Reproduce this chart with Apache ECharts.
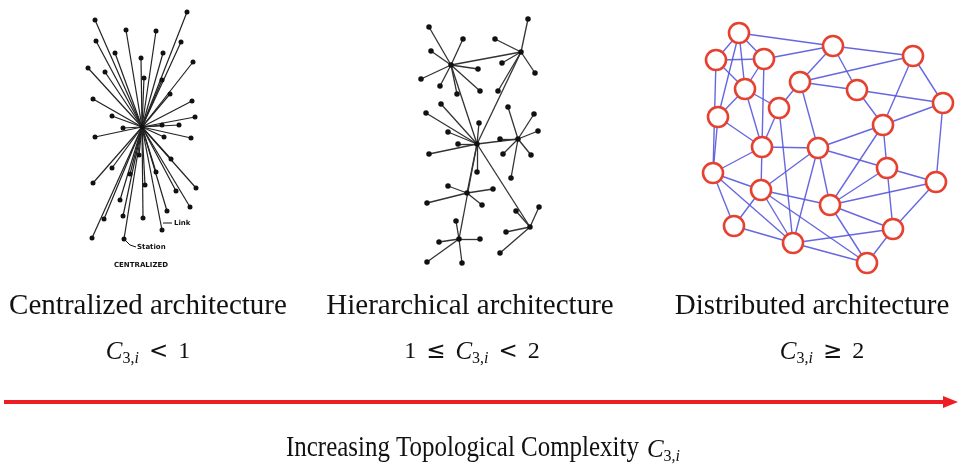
<!DOCTYPE html>
<html>
<head>
<meta charset="utf-8">
<script src="https://cdn.jsdelivr.net/npm/echarts@6/dist/echarts.min.js"></script>
<style>
  html, body { margin: 0; padding: 0; background: #fff; }
  #chart { width: 962px; height: 469px; }
</style>
</head>
<body>
<div id="chart"></div>
<script>
// ---- centralized: one hub, every station linked to it ----
const centralHub = [142, 127];
const centralLeaves = [
  [95, 20], [187, 12], [126, 30], [156, 31], [96, 41], [181, 42], [115, 53], [163, 53],
  [141, 58], [193, 62], [88, 68], [105, 72], [144, 78], [162, 80], [170, 94], [93, 99],
  [192, 101], [112, 116], [195, 117], [162, 125], [179, 125], [123, 128], [95, 137], [164, 137],
  [191, 138], [139, 155], [171, 159], [112, 168], [130, 174], [156, 172], [93, 183], [145, 185],
  [176, 191], [196, 188], [120, 200], [190, 207], [167, 211], [123, 216], [104, 219], [143, 218],
  [162, 230], [92, 238], [124, 239]
];

// ---- hierarchical: sub-hubs, hub-to-hub links, leaves as [hub, x, y] ----
const hierHubs = [[451, 65], [521, 52], [477, 144], [518, 139], [467, 193], [530, 227], [459, 239]];
const hierHubLinks = [[0, 1], [0, 2], [1, 2], [2, 3], [2, 4], [2, 6], [2, 5]];
const hierLeaves = [
  [0, 429, 27], [0, 463, 39], [0, 431, 51], [0, 478, 69], [0, 421, 79], [0, 440, 86], [0, 457, 94], [0, 480, 91],
  [1, 528, 19], [1, 495, 39], [1, 502, 63], [1, 535, 73], [1, 498, 91],
  [2, 426, 113], [2, 441, 104], [2, 479, 123], [2, 448, 132], [2, 458, 144], [2, 429, 154], [2, 477, 172],
  [3, 508, 107], [3, 534, 114], [3, 538, 131], [3, 500, 139], [3, 503, 154], [3, 531, 155], [3, 511, 178],
  [4, 448, 186], [4, 493, 189], [4, 427, 203], [4, 482, 205],
  [5, 539, 207], [5, 516, 211], [5, 506, 232], [5, 500, 253],
  [6, 456, 221], [6, 439, 242], [6, 480, 239], [6, 427, 262], [6, 462, 263]
];

// ---- distributed: mesh ----
const distNodes = [
  [739, 33], [833, 46], [913, 56], [716, 60], [764, 59], [800, 82], [857, 90], [745, 89],
  [779, 108], [943, 103], [718, 117], [883, 125], [762, 147], [818, 148], [713, 173], [887, 168],
  [936, 182], [761, 190], [830, 205], [734, 226], [893, 229], [793, 243], [867, 263]
];
const distLinks = [
  [0, 1], [0, 3], [0, 4], [0, 7], [0, 10], [3, 4], [3, 7], [3, 14], [4, 1], [4, 7], [4, 12],
  [1, 5], [1, 6], [1, 2], [5, 2], [5, 6], [5, 8], [6, 9], [6, 11], [2, 9], [2, 11], [9, 11],
  [9, 16], [7, 8], [7, 10], [7, 12], [8, 12], [8, 21], [5, 13], [11, 13], [11, 15], [11, 18],
  [12, 13], [12, 14], [12, 17], [12, 10], [13, 15], [13, 17], [13, 18], [13, 21], [14, 17],
  [14, 19], [14, 21], [14, 10], [17, 18], [17, 19], [17, 21], [17, 22], [18, 15], [18, 16],
  [18, 20], [18, 22], [15, 16], [15, 20], [16, 20], [20, 22], [20, 21], [21, 22], [19, 21]
];

// ---- captions ----
const titles = ["Centralized architecture", "Hierarchical architecture", "Distributed architecture"];
const titleCenters = [148, 470, 812];
const formulas = [
  [["C", "it"], ["3,", "sub"], ["i", "subit"], ["<", "rel"], ["1", "rm"]],
  [["1", "rm"], ["\u2264", "rel"], ["C", "it"], ["3,", "sub"], ["i", "subit"], ["<", "rel"], ["2", "rm"]],
  [["C", "it"], ["3,", "sub"], ["i", "subit"], ["\u2265", "rel"], ["2", "rm"]]
];
const formulaCenters = [148, 472, 822];
const axisLabel = "Increasing Topological Complexity";

const SERIF = "'Liberation Serif', 'Times New Roman', serif";
const fonts = {
  rm: "24px " + SERIF,
  it: "italic 25px " + SERIF,
  sub: "16px " + SERIF,
  subit: "italic 16px " + SERIF,
  rel: "23px 'DejaVu Sans'"
};
const gapAfter = { rm: 10, it: 0, sub: 0, subit: 10, rel: 10 };

const ctx = document.createElement("canvas").getContext("2d");
function textWidth(t, font) {
  ctx.font = font;
  return ctx.measureText(t).width;
}

function formulaElements(parts, center, midY) {
  const widths = parts.map(([t, k]) => textWidth(t, fonts[k]));
  let total = 0;
  parts.forEach(([t, k], i) => { total += widths[i] + (i < parts.length - 1 ? gapAfter[k] : 0); });
  let x = center - total / 2;
  return parts.map(([t, k], i) => {
    const el = {
      type: "text",
      x: x,
      y: k === "sub" || k === "subit" ? midY + 7 : midY,
      silent: true,
      style: { text: t, font: fonts[k], fill: "#111", textAlign: "left", textVerticalAlign: "middle" }
    };
    x += widths[i] + gapAfter[k];
    return el;
  });
}

// graph series data
function graphData(prefix, points) {
  return points.map((p, i) => ({ name: prefix + i, value: p }));
}

const centralNodes = [centralHub].concat(centralLeaves);
const centralLinks = centralLeaves.map((p, i) => ({ source: 0, target: i + 1 }));

const hierNodes = hierHubs.concat(hierLeaves.map(l => [l[1], l[2]]));
const hierLinkList = hierHubLinks.map(([a, b]) => ({ source: a, target: b }))
  .concat(hierLeaves.map((l, i) => ({ source: l[0], target: hierHubs.length + i })));

const chart = echarts.init(document.getElementById("chart"));

const graphic = [];
titles.forEach((t, i) => {
  graphic.push({
    type: "text", x: titleCenters[i], y: 306, silent: true,
    style: { text: t, font: "29px " + SERIF, fill: "#111", textAlign: "center", textVerticalAlign: "middle" }
  });
});
formulas.forEach((f, i) => {
  formulaElements(f, formulaCenters[i], 352).forEach(el => graphic.push(el));
});

// bottom axis label + C_{3,i}; the label is drawn a little condensed
const labelScale = 0.86;
const labelGap = 8;
const labelW = textWidth(axisLabel, "29px " + SERIF) * labelScale;
const cW = textWidth("C", fonts.it) + textWidth("3,", fonts.sub) + textWidth("i", fonts.subit);
const labelX = 483 - (labelW + labelGap + cW) / 2;
graphic.push({
  type: "text", x: labelX, y: 448, scaleX: labelScale, silent: true,
  style: { text: axisLabel, font: "29px " + SERIF, fill: "#111", textAlign: "left", textVerticalAlign: "middle" }
});
formulaElements([["C", "it"], ["3,", "sub"], ["i", "subit"]], labelX + labelW + labelGap + cW / 2, 450)
  .forEach(el => graphic.push(el));

// red arrow
graphic.push({
  type: "line", silent: true,
  shape: { x1: 4, y1: 402, x2: 946, y2: 402 },
  style: { stroke: "#ee1d23", lineWidth: 4 }
});
graphic.push({
  type: "polygon", silent: true,
  shape: { points: [[943, 396], [958, 402], [943, 408]] },
  style: { fill: "#ee1d23" }
});

// small annotations of the centralized sketch
const annoFont = "bold 7px 'DejaVu Sans'";
graphic.push(
  { type: "line", silent: true, shape: { x1: 163, y1: 223, x2: 172, y2: 223 }, style: { stroke: "#111", lineWidth: 1 } },
  { type: "text", x: 174, y: 223, silent: true, style: { text: "Link", font: annoFont, fill: "#111", textAlign: "left", textVerticalAlign: "middle" } },
  { type: "polyline", silent: true, shape: { points: [[125, 240], [130, 245], [136, 247]] }, style: { stroke: "#111", lineWidth: 1, fill: null } },
  { type: "text", x: 137, y: 247, silent: true, style: { text: "Station", font: annoFont, fill: "#111", textAlign: "left", textVerticalAlign: "middle" } },
  { type: "text", x: 141, y: 265, silent: true, style: { text: "CENTRALIZED", font: annoFont, fill: "#111", textAlign: "center", textVerticalAlign: "middle" } }
);

const option = {
  backgroundColor: "#fff",
  animation: false,
  grid: { left: 0, right: 0, top: 0, bottom: 0 },
  xAxis: { type: "value", min: 0, max: 962, show: false },
  yAxis: { type: "value", min: 0, max: 469, inverse: true, show: false },
  series: [
    {
      type: "graph", coordinateSystem: "cartesian2d", layout: "none", silent: true,
      symbol: "circle", symbolSize: 5,
      itemStyle: { color: "#111" },
      lineStyle: { color: "#222", width: 1.2, opacity: 1 },
      data: graphData("c", centralNodes),
      links: centralLinks
    },
    {
      type: "graph", coordinateSystem: "cartesian2d", layout: "none", silent: true,
      symbol: "circle", symbolSize: 5.5,
      itemStyle: { color: "#111" },
      lineStyle: { color: "#333", width: 1.3, opacity: 1 },
      data: graphData("h", hierNodes),
      links: hierLinkList
    },
    {
      type: "graph", coordinateSystem: "cartesian2d", layout: "none", silent: true,
      symbol: "circle", symbolSize: 20,
      itemStyle: { color: "#fff", borderColor: "#e6402f", borderWidth: 2.6 },
      lineStyle: { color: "#5757dc", width: 1.4, opacity: 0.9 },
      data: graphData("d", distNodes),
      links: distLinks.map(([a, b]) => ({ source: a, target: b }))
    }
  ],
  graphic: graphic
};

chart.setOption(option);
</script>
</body>
</html>
